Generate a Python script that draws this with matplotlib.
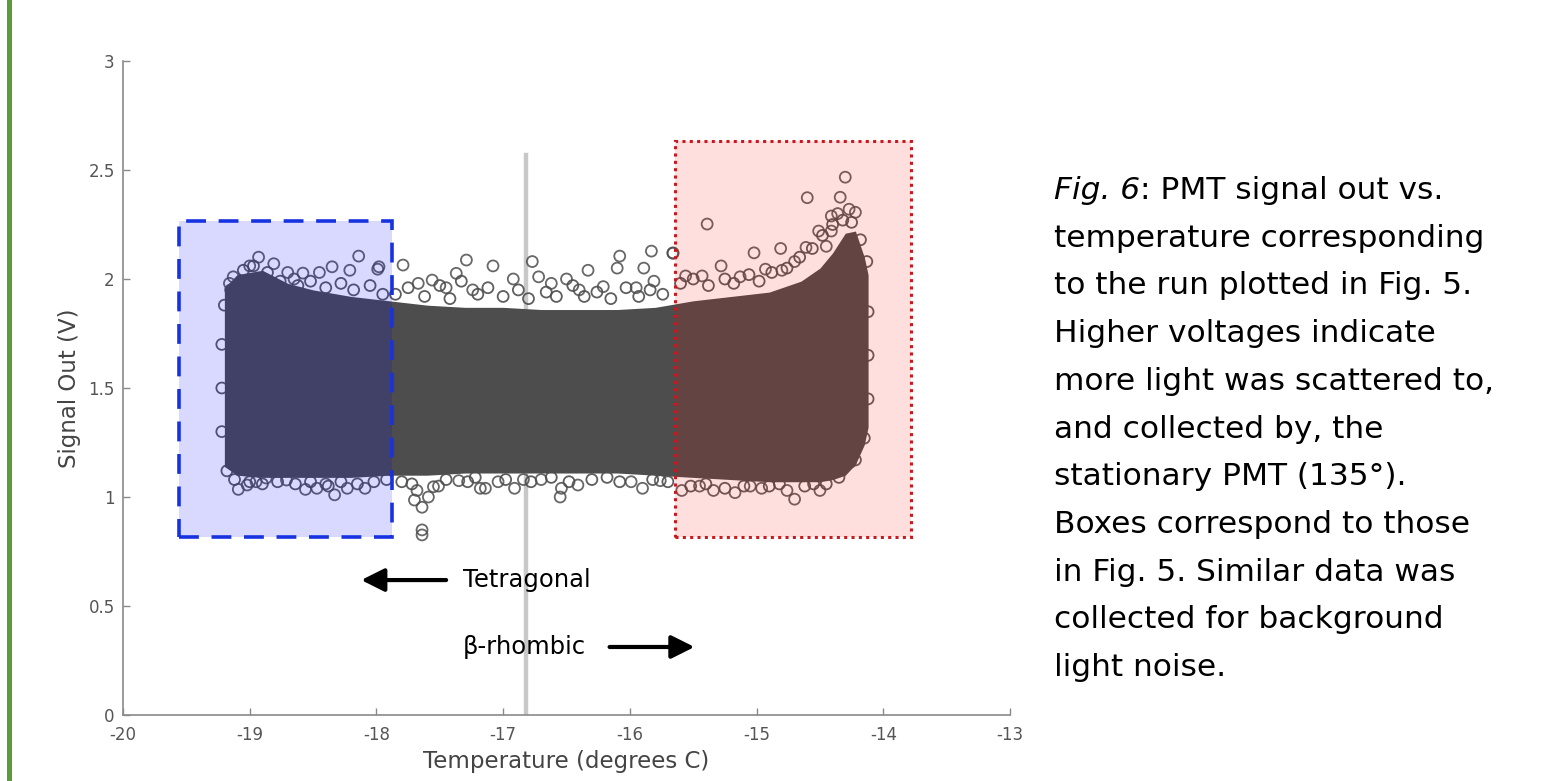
import matplotlib
matplotlib.use("Agg")
import matplotlib.pyplot as plt
from matplotlib.patches import Rectangle

# dense core of the scatter cloud (envelope)
core_temp = [-19.20, -19.10, -18.90, -18.70, -18.50, -18.20, -17.90, -17.60, -17.30,
             -17.00, -16.70, -16.40, -16.10, -15.80, -15.50, -15.20, -14.90, -14.65,
             -14.50, -14.40, -14.30, -14.22, -14.15, -14.12]
core_upper = [1.96, 2.02, 2.04, 1.98, 1.95, 1.92, 1.90, 1.88, 1.87,
              1.87, 1.86, 1.86, 1.86, 1.87, 1.90, 1.92, 1.94, 1.99,
              2.05, 2.12, 2.21, 2.22, 2.10, 2.02]
core_lower = [1.14, 1.10, 1.09, 1.09, 1.09, 1.09, 1.10, 1.10, 1.11,
              1.11, 1.11, 1.11, 1.11, 1.10, 1.09, 1.08, 1.07, 1.07,
              1.07, 1.08, 1.10, 1.15, 1.24, 1.32]

# circles along the ragged edge of the core
fringe_temp = [-17.85, -17.75, -17.62, -17.50, -17.42, -17.33, -17.20, -17.12, -17.00, -16.88,
               -16.80, -16.66, -16.58, -16.45, -16.36, -16.26, -16.15, -16.03, -15.93, -15.84,
               -15.74,
               -19.15, -19.05, -18.97, -18.86, -18.76, -18.62, -18.52, -18.40, -18.28, -18.18,
               -18.05, -17.95,
               -15.60, -15.50, -15.38, -15.25, -15.18, -15.06, -14.98, -14.88, -14.76, -14.66,
               -14.56, -14.48, -14.40, -14.32, -14.25, -14.18, -14.13,
               -19.18, -19.12, -19.00, -18.90, -18.78, -18.64, -18.52, -18.38, -18.28, -18.15,
               -18.02, -17.92,
               -17.80, -17.72, -17.45, -17.28, -17.22, -16.98, -16.78, -16.62, -16.48, -16.30,
               -16.18, -16.08, -15.82, -15.70,
               -15.52, -15.40, -15.25, -15.10, -14.90, -14.82, -14.62, -14.55, -14.45, -14.35,
               -14.22, -14.15, -14.12, -14.12, -14.12, -19.22, -19.22, -19.22, -19.20]
fringe_volt = [1.93, 1.96, 1.92, 1.97, 1.91, 1.99, 1.93, 1.96, 1.92, 1.95,
               1.91, 1.94, 1.92, 1.97, 1.92, 1.94, 1.91, 1.96, 1.92, 1.95,
               1.93,
               1.95, 2.04, 2.06, 2.03, 1.99, 1.97, 1.99, 1.96, 1.98, 1.95,
               1.97, 1.93,
               1.98, 2.00, 1.97, 2.00, 1.98, 2.02, 1.99, 2.03, 2.05, 2.10,
               2.14, 2.20, 2.25, 2.27, 2.26, 2.18, 2.08,
               1.12, 1.08, 1.07, 1.06, 1.07, 1.06, 1.07, 1.05, 1.07, 1.06,
               1.07, 1.08,
               1.07, 1.06, 1.08, 1.07, 1.09, 1.08, 1.07, 1.09, 1.07, 1.08,
               1.09, 1.07, 1.08, 1.07,
               1.05, 1.06, 1.04, 1.05, 1.05, 1.06, 1.05, 1.06, 1.06, 1.09,
               1.17, 1.27, 1.45, 1.65, 1.85, 1.30, 1.50, 1.70, 1.88]

# individual points sticking out of the core
outlier_temp = [-18.93, -18.81, -19.13, -19.16, -18.58, -18.45, -18.35, -18.21, -18.14, -17.98,
                -18.70, -19.00, -18.65,
                -19.09, -19.02, -18.87, -18.71, -18.56, -18.47, -18.33, -18.23, -18.09, -18.95,
                -18.40,
                -17.79, -17.99, -17.67, -17.56, -17.37, -17.29, -17.24, -17.08, -16.92, -16.77,
                -16.72, -16.62, -16.50, -16.33, -16.21, -16.10, -16.08, -15.89, -15.81, -15.83,
                -15.66, -17.45, -16.40, -15.95,
                -17.70, -17.64, -17.59, -17.51, -17.64, -17.64, -17.35, -17.18, -17.14, -17.04,
                -16.91, -16.84, -16.55, -16.54, -16.41, -15.99, -15.90, -15.76, -15.59, -17.55,
                -17.68, -16.70,
                -14.30, -14.60, -14.34, -15.39, -14.27, -14.22, -14.41, -14.51, -14.41, -15.02,
                -14.81, -14.61, -15.28, -14.93, -15.56, -15.43, -15.13, -14.80, -15.66, -14.70,
                -14.45, -14.36,
                -14.70, -15.34, -15.17, -15.05, -14.96, -14.76, -14.26, -14.50, -15.45]
outlier_volt = [2.100, 2.070, 2.010, 1.980, 2.027, 2.030, 2.056, 2.040, 2.105, 2.056,
                2.030, 2.060, 2.000,
                1.035, 1.055, 1.087, 1.078, 1.035, 1.040, 1.010, 1.040, 1.040, 1.070,
                1.060,
                2.064, 2.045, 1.980, 1.995, 2.026, 2.087, 1.950, 2.060, 2.000, 2.080,
                2.010, 1.980, 2.000, 2.040, 1.965, 2.050, 2.105, 2.050, 1.990, 2.128,
                2.118, 1.960, 1.950, 1.960,
                0.986, 0.953, 1.000, 1.050, 0.849, 0.826, 1.075, 1.040, 1.040, 1.070,
                1.040, 1.080, 1.000, 1.040, 1.055, 1.070, 1.040, 1.075, 1.030, 1.047,
                1.030, 1.080,
                2.467, 2.373, 2.375, 2.252, 2.320, 2.306, 2.289, 2.220, 2.220, 2.120,
                2.140, 2.145, 2.060, 2.045, 2.014, 2.014, 2.010, 2.040, 2.120, 2.080,
                2.150, 2.300,
                0.990, 1.030, 1.020, 1.050, 1.040, 1.030, 1.160, 1.030, 1.050]

# boxes: (temp_left, temp_right, volt_bottom, volt_top)
blue_box = [-19.56, -17.88, 0.817, 2.266]
red_box = [-15.64, -13.78, 0.817, 2.633]
transition_temp = -16.82
transition_top = 2.57

x_ticks = [-20, -19, -18, -17, -16, -15, -14, -13]
y_ticks = [0, 0.5, 1, 1.5, 2, 2.5, 3]
y_tick_labels = ["0", "0.5", "1", "1.5", "2", "2.5", "3"]

caption_head = "Fig. 6"
caption = [": PMT signal out vs.",
           "temperature corresponding",
           "to the run plotted in Fig. 5.",
           "Higher voltages indicate",
           "more light was scattered to,",
           "and collected by, the",
           "stationary PMT (135°).",
           "Boxes correspond to those",
           "in Fig. 5. Similar data was",
           "collected for background",
           "light noise."]

plt.rcParams["font.family"] = ["DejaVu Sans"]
plt.rcParams["axes.unicode_minus"] = False

W, H = 1546, 781
fig = plt.figure(figsize=(W / 100, H / 100), dpi=100)
ax = fig.add_axes([123 / W, 1 - 715 / H, (1010 - 123) / W, (715 - 61) / H])

cloud = "#4d4d4d"
ax.plot([transition_temp, transition_temp], [0, transition_top], color="#c8c8c8", lw=3.2, zorder=1)
ax.fill_between(core_temp, core_lower, core_upper, color=cloud, lw=0, zorder=2)
ax.scatter(fringe_temp, fringe_volt, s=62, facecolors="none", edgecolors=cloud,
           linewidths=1.3, alpha=0.9, zorder=3)
ax.scatter(outlier_temp, outlier_volt, s=62, facecolors="none", edgecolors=cloud,
           linewidths=1.3, alpha=0.85, zorder=3)

bx0, bx1, by0, by1 = blue_box
ax.add_patch(Rectangle((bx0, by0), bx1 - bx0, by1 - by0, facecolor=(0, 0, 1, 0.15),
                       edgecolor="none", zorder=4))
ax.add_patch(Rectangle((bx0, by0), bx1 - bx0, by1 - by0, facecolor="none",
                       edgecolor="#1733e0", lw=2.6, linestyle=(0, (5.5, 3.5)), zorder=5))
rx0, rx1, ry0, ry1 = red_box
ax.add_patch(Rectangle((rx0, ry0), rx1 - rx0, ry1 - ry0, facecolor=(1, 0, 0, 0.13),
                       edgecolor="none", zorder=4))
ax.add_patch(Rectangle((rx0, ry0), rx1 - rx0, ry1 - ry0, facecolor="none",
                       edgecolor="#c8191e", lw=2.2, linestyle=(0, (1, 1.4)), zorder=5))

arrow_style = dict(arrowstyle="-|>,head_length=0.7,head_width=0.35", color="black",
                   lw=3, mutation_scale=20, shrinkA=0, shrinkB=0)
ax.annotate("", xy=(-18.12, 0.619), xytext=(-17.45, 0.619), arrowprops=arrow_style, zorder=6)
ax.text(-17.32, 0.619, "Tetragonal", fontsize=17.5, va="center", ha="left", zorder=6)
ax.text(-17.32, 0.312, "β-rhombic", fontsize=17.5, va="center", ha="left", zorder=6)
ax.annotate("", xy=(-15.49, 0.312), xytext=(-16.16, 0.312), arrowprops=arrow_style, zorder=6)

ax.set_xlim(-20, -13)
ax.set_ylim(0, 3)
ax.set_xticks(x_ticks)
ax.set_xticklabels([str(t) for t in x_ticks])
ax.set_yticks(y_ticks)
ax.set_yticklabels(y_tick_labels)
for side in ["top", "right"]:
    ax.spines[side].set_visible(False)
for side in ["left", "bottom"]:
    ax.spines[side].set_color("#8a8a8a")
    ax.spines[side].set_linewidth(1.2)
ax.tick_params(direction="in", length=5, width=1, color="#8a8a8a", labelcolor="#555555",
               labelsize=12)
ax.tick_params(axis="x", pad=8)
ax.tick_params(axis="y", pad=6)
ax.set_xlabel("Temperature (degrees C)", fontsize=16.5, color="#444444", labelpad=4)
ax.set_ylabel("Signal Out (V)", fontsize=16.5, color="#444444", labelpad=5)
ax.patch.set_alpha(0)

# caption on the right, the figure number in italics
x0 = 1054 / W
head = fig.text(x0, 1 - 199 / H, caption_head, fontsize=22.5, style="italic",
                va="baseline", ha="left")
fig.canvas.draw()
head_end = head.get_window_extent().x1 / W
for i, line in enumerate(caption):
    x = head_end if i == 0 else x0
    fig.text(x, 1 - (199 + i * 47.7) / H, line, fontsize=22.5, va="baseline", ha="left")

fig.add_artist(Rectangle((7 / W, 0), 5 / W, 1, transform=fig.transFigure,
                         facecolor="#5b9b3a", edgecolor="none"))

fig.savefig("out.png", dpi=100)
